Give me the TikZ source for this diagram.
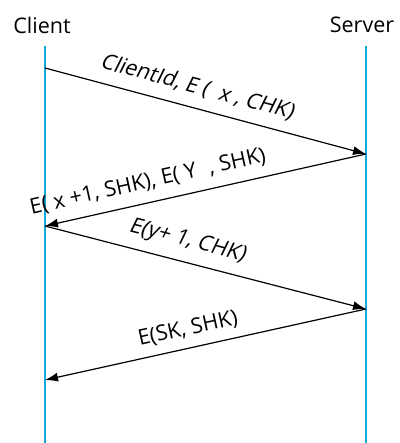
\documentclass[tikz,border=0pt]{standalone}
\usepackage{fontspec}
\setmainfont{Open Sans}
\newfontfamily\obliquefont[FakeSlant=0.2]{Open Sans}
\usetikzlibrary{arrows.meta}
\definecolor{lifeline}{RGB}{20,170,215}
\tikzset{
  lifeln/.style={draw=lifeline, line width=2pt},
  msg/.style={draw=black, line width=1.2pt, -{Latex[length=13pt,width=9pt]}},
  actor/.style={font=\fontsize{21.5}{24}\selectfont, inner sep=0pt},
  lbl/.style={font=\fontsize{21.5}{24}\selectfont, inner sep=0pt},
  slbl/.style={font=\obliquefont\fontsize{21.5}{24}\selectfont, inner sep=0pt},
}
\begin{document}
\begin{tikzpicture}[x=1pt, y=-1pt]
  \useasboundingbox (0,0) rectangle (399,443);
  % participants
  \node[actor] (client) at (42,25) {Client};
  \node[actor] (server) at (362,25) {Server};
  % lifelines
  \coordinate (ctop) at (45,46);  \coordinate (cbot) at (45,443);
  \coordinate (stop) at (366,46); \coordinate (sbot) at (366,443);
  \draw[lifeln] (ctop) -- (cbot);
  \draw[lifeln] (stop) -- (sbot);
  % message endpoints on the lifelines
  \coordinate (c1) at (45,68);
  \coordinate (s1) at (366,154);
  \coordinate (c2) at (45,226);
  \coordinate (s2) at (366,309);
  \coordinate (c3) at (45,380);
  % messages
  \draw[msg] (c1) -- (s1);
  \draw[msg] (s1) -- (c2);
  \draw[msg] (c2) -- (s2);
  \draw[msg] (s2) -- (c3);
  % message labels
  \node[slbl, rotate=-15] (m1) at (197,87) {ClientId, E (\,\,\,x , CHK)};
  \node[lbl, rotate=12.6] (m2) at (148,182) {E( x +1, SHK), E( Y\,\, , SHK)};
  \node[slbl, rotate=-14.5] (m3) at (187,241) {E(y+ 1, CHK)};
  \node[lbl, rotate=12.5] (m4) at (188,329) {E(SK, SHK)};
\end{tikzpicture}
\end{document}
